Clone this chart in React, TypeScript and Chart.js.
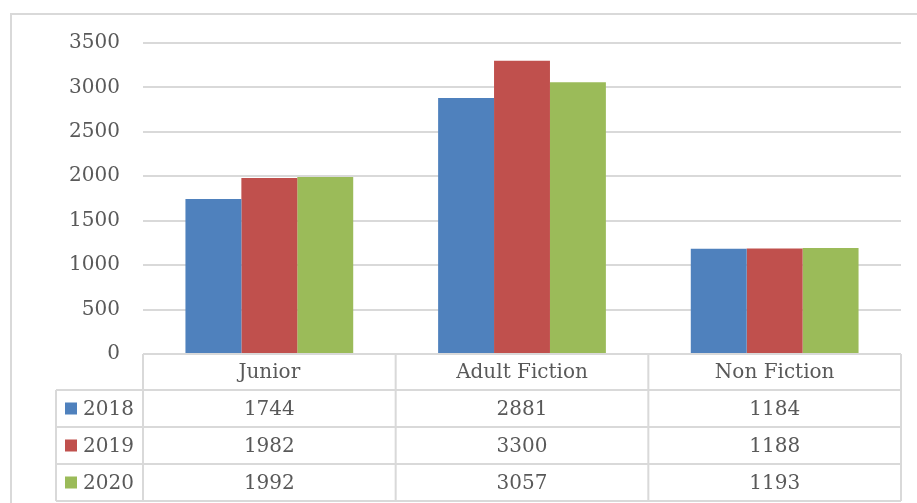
import React, { useEffect, useRef } from "react";
import { Chart, registerables } from "chart.js";

Chart.register(...registerables);

const categories = ["Junior", "Adult Fiction", "Non Fiction"];
const seriesNames = ["2018", "2019", "2020"];
const values2018 = [1744, 2881, 1184];
const values2019 = [1982, 3300, 1188];
const values2020 = [1992, 3057, 1193];
const seriesColors = ["#4f81bd", "#c0504d", "#9bbb59"];
const yMin = 0;
const yMax = 3500;
const yStep = 500;

const FONT = "'DejaVu Serif', serif";
const TEXT_COLOR = "#595959";
const LINE_COLOR = "#d9d9d9";

const tablePlugin = {
  id: "dataTable",
  afterDraw(chart: any) {
    const ctx = chart.ctx;
    const area = chart.chartArea;
    const x = chart.scales.x;
    const left = area.left;
    const right = area.right;
    const top = area.bottom;
    const headerH = 36;
    const rowH = 37;
    const legendLeft = 56;
    const n = categories.length;
    const colW = (right - left) / n;
    const allValues = [values2018, values2019, values2020];

    ctx.save();
    ctx.strokeStyle = LINE_COLOR;
    ctx.lineWidth = 2;
    ctx.strokeRect(11, 14, 1000, 700);

    ctx.beginPath();
    ctx.moveTo(left, top);
    ctx.lineTo(right, top);
    for (let r = 0; r <= seriesNames.length; r++) {
      const y = top + headerH + r * rowH;
      ctx.moveTo(legendLeft, y);
      ctx.lineTo(right, y);
    }
    const bottom = top + headerH + seriesNames.length * rowH;
    for (let c = 0; c <= n; c++) {
      const xx = left + c * colW;
      ctx.moveTo(xx, top);
      ctx.lineTo(xx, bottom);
    }
    ctx.moveTo(legendLeft, top + headerH);
    ctx.lineTo(legendLeft, bottom);
    ctx.stroke();

    ctx.fillStyle = TEXT_COLOR;
    ctx.font = `20px ${FONT}`;
    ctx.textAlign = "center";
    ctx.textBaseline = "middle";
    for (let c = 0; c < n; c++) {
      const cx = x.getPixelForValue(c);
      ctx.fillText(categories[c], cx, top + headerH / 2 + 1);
      for (let r = 0; r < seriesNames.length; r++) {
        ctx.fillText(String(allValues[r][c]), cx, top + headerH + r * rowH + rowH / 2 + 1);
      }
    }
    ctx.textAlign = "left";
    for (let r = 0; r < seriesNames.length; r++) {
      const cy = top + headerH + r * rowH + rowH / 2;
      ctx.fillStyle = seriesColors[r];
      ctx.fillRect(65, cy - 6, 12, 12);
      ctx.fillStyle = TEXT_COLOR;
      ctx.fillText(seriesNames[r], 83, cy + 1);
    }
    ctx.restore();
  },
};

export default function App() {
  const ref = useRef<HTMLCanvasElement | null>(null);
  useEffect(() => {
    if (!ref.current) return;
    const chart = new Chart(ref.current, {
      type: "bar",
      data: {
        labels: categories,
        datasets: [
          { label: seriesNames[0], data: values2018, backgroundColor: seriesColors[0] },
          { label: seriesNames[1], data: values2019, backgroundColor: seriesColors[1] },
          { label: seriesNames[2], data: values2020, backgroundColor: seriesColors[2] },
        ],
      },
      options: {
        animation: false,
        responsive: false,
        maintainAspectRatio: false,
        layout: { padding: { top: 43, right: 16, bottom: 0, left: 0 } },
        datasets: { bar: { categoryPercentage: 0.664, barPercentage: 1 } } as any,
        plugins: { legend: { display: false }, tooltip: { enabled: false } },
        scales: {
          x: {
            grid: { display: false },
            border: { display: false },
            ticks: { display: false },
            afterFit: (s: any) => { s.height = 149; },
          },
          y: {
            min: yMin,
            max: yMax,
            ticks: {
              stepSize: yStep,
              color: TEXT_COLOR,
              font: { family: FONT, size: 20 },
              padding: 23,
              callback: (v: any) => String(v),
            },
            grid: { color: LINE_COLOR, lineWidth: 2, drawTicks: false },
            border: { display: false },
            afterFit: (s: any) => { s.width = 143; },
          },
        },
      },
      plugins: [tablePlugin],
    });
    return () => chart.destroy();
  }, []);
  return (
    <div style={{ position: "fixed", left: 0, top: 0, width: 917, height: 503, background: "#fff" }}>
      <canvas ref={ref} width={917} height={503} style={{ display: "block", width: 917, height: 503 }} />
    </div>
  );
}
